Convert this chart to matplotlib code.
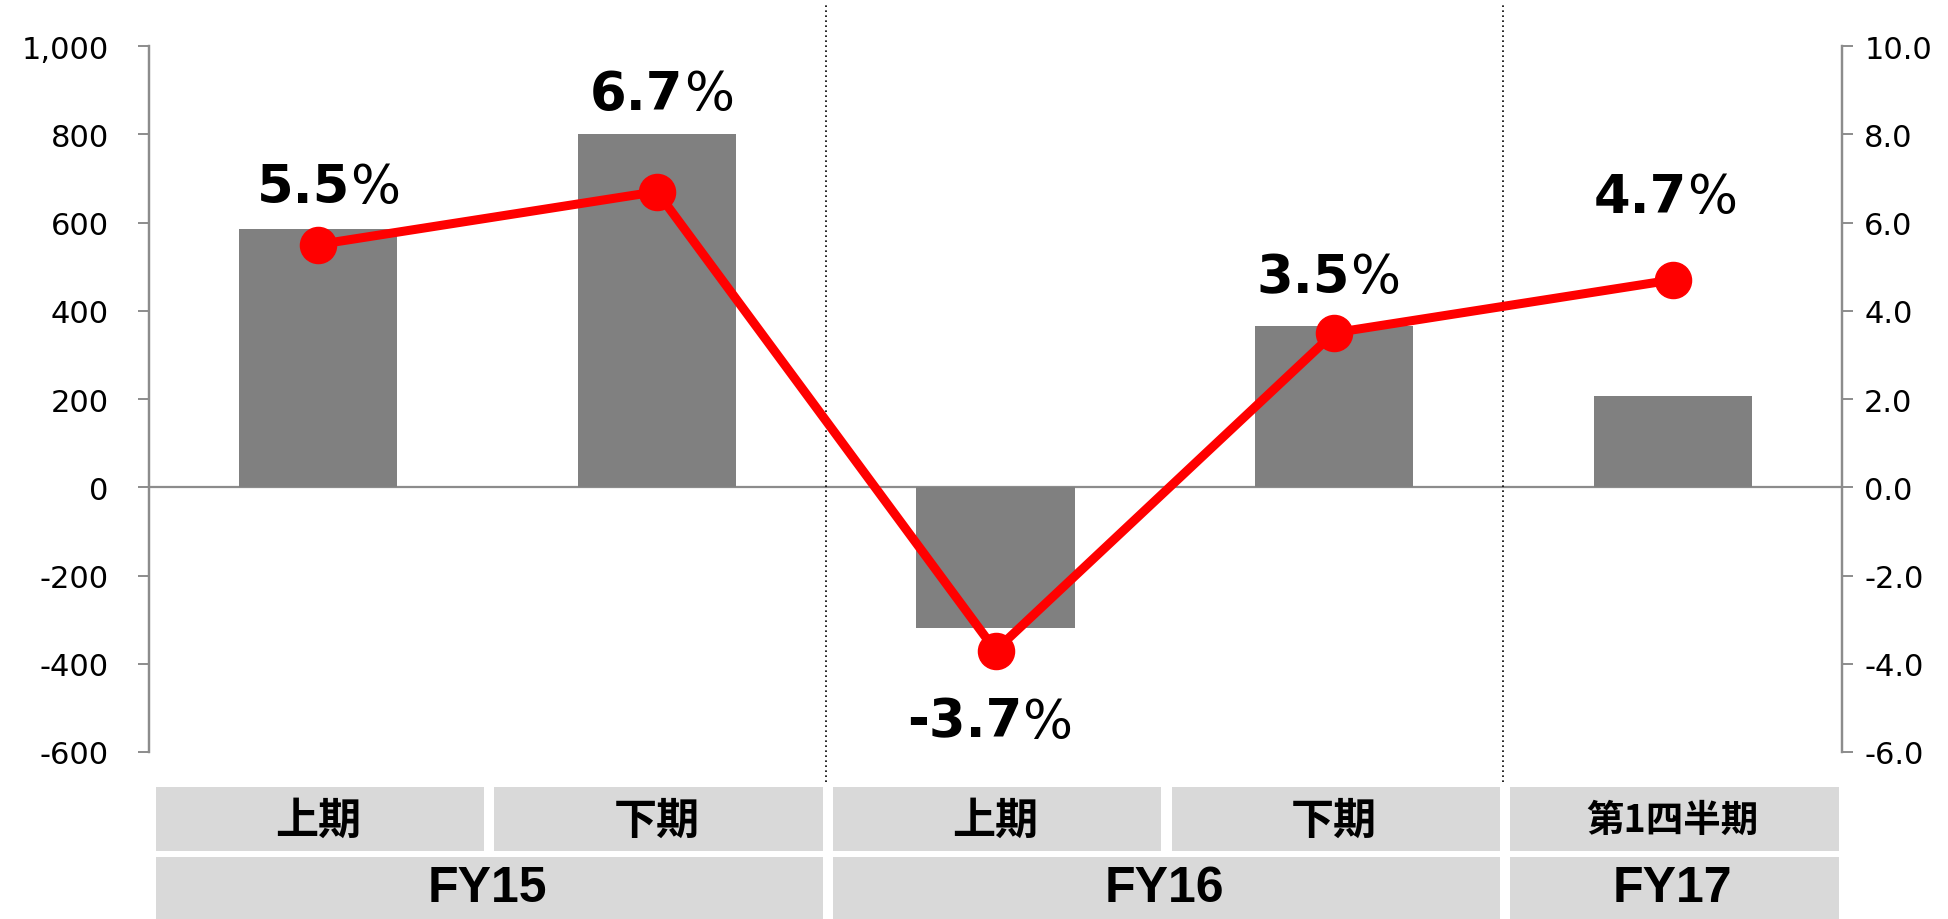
"""Half-year results: bars (left axis) with growth-rate line (right axis)."""

import matplotlib
matplotlib.use("Agg")
import matplotlib.pyplot as plt
from matplotlib.patches import Rectangle
from matplotlib.ticker import FuncFormatter

# ---------------------------------------------------------------------------
# Data
# ---------------------------------------------------------------------------

PERIODS = ["上期", "下期", "上期", "下期", "第1四半期"]
YEARS = ["FY15", "FY16", "FY17"]
YEAR_SPANS = [(0, 1), (2, 3), (4, 4)]          # first / last period index per year
BAR_VALUES = [586, 800, -318, 366, 206]
RATE_VALUES = [5.5, 6.7, -3.7, 3.5, 4.7]
LEFT_TICKS = [-600, -400, -200, 0, 200, 400, 600, 800, 1000]
RIGHT_TICKS = [-6, -4, -2, 0, 2, 4, 6, 8, 10]

# label placement relative to each point (pixels)
LABEL_DX = [10, 5, -6, -6, -7]
LABEL_DY = [43, 83, -86, 41, 68]

BAR_COLOR = "#808080"
LINE_COLOR = "#ff0000"
SPINE_COLOR = "#8c8c8c"
CELL_COLOR = "#d9d9d9"
TEXT_COLOR = "#000000"

W, H, DPI = 1948, 920, 100
AX_L, AX_R, AX_T, AX_B = 149, 1842, 47, 753   # axes box in pixels

plt.rcParams["font.family"] = ["Liberation Sans", "DejaVu Sans"]
NUM_FONT = ["DejaVu Sans"]
CJK = ["Noto Sans CJK JP", "DejaVu Sans"]

fig = plt.figure(figsize=(W / DPI, H / DPI), dpi=DPI)
fig.patch.set_facecolor("white")

ax = fig.add_axes([AX_L / W, 1 - AX_B / H, (AX_R - AX_L) / W, (AX_B - AX_T) / H])
ax2 = ax.twinx()

x = list(range(len(BAR_VALUES)))

# bars
ax.bar(x, BAR_VALUES, width=0.467, color=BAR_COLOR, zorder=2)
ax.axhline(0, color=SPINE_COLOR, linewidth=1.6, zorder=1)
ax.set_xlim(-0.5, len(x) - 0.5)
ax.set_ylim(LEFT_TICKS[0], LEFT_TICKS[-1])
ax.set_yticks(LEFT_TICKS)
ax.yaxis.set_major_formatter(FuncFormatter(lambda v, p: f"{int(v):,}"))
ax.set_xticks([])

# line
ax2.plot(x, RATE_VALUES, color=LINE_COLOR, linewidth=6.5, marker="o",
         markersize=26, solid_capstyle="round", zorder=3)
ax2.set_ylim(RIGHT_TICKS[0], RIGHT_TICKS[-1])
ax2.set_yticks(RIGHT_TICKS)
ax2.yaxis.set_major_formatter(FuncFormatter(lambda v, p: f"{v:.1f}"))

for a in (ax, ax2):
    for side in ("top", "bottom"):
        a.spines[side].set_visible(False)
    a.spines["left"].set_color(SPINE_COLOR)
    a.spines["right"].set_color(SPINE_COLOR)
    a.spines["left"].set_linewidth(1.6)
    a.spines["right"].set_linewidth(1.6)
    a.tick_params(axis="y", labelsize=22, labelcolor=TEXT_COLOR, color=SPINE_COLOR,
                  length=8, width=1.4)
    for lbl in a.get_yticklabels():
        lbl.set_family(NUM_FONT)
ax.tick_params(axis="y", pad=21)
ax2.tick_params(axis="y", pad=8)

# dotted separators between fiscal years
for yi in range(len(YEAR_SPANS) - 1):
    sep = YEAR_SPANS[yi][1] + 0.5
    ax.axvline(sep, ymin=-0.042, ymax=1.058, color="black", linewidth=1.2,
               linestyle=(0, (1, 2)), clip_on=False, zorder=4)

# percentage labels: bold number + regular percent sign
labels = []
for i, v in enumerate(RATE_VALUES):
    num = ax2.annotate(f"{v:.1f}", xy=(i, v), xytext=(LABEL_DX[i], LABEL_DY[i]),
                       textcoords="offset pixels", ha="center", va="baseline",
                       fontsize=38, fontweight="bold", family=NUM_FONT,
                       color=TEXT_COLOR, zorder=5)
    pct = ax2.annotate("%", xy=(1, 0), xycoords=num, ha="left", va="bottom",
                       fontsize=38, family=NUM_FONT, color=TEXT_COLOR, zorder=5)
    labels.append((num, pct))

fig.canvas.draw()
for i, (num, pct) in enumerate(labels):
    w = pct.get_window_extent().width
    num.xyann = (LABEL_DX[i] - w / 2, LABEL_DY[i])

# category table under the chart
tax = fig.add_axes([AX_L / W, 0, (AX_R - AX_L) / W, 132 / H])
tax.set_xlim(-0.5, len(x) - 0.5)
tax.set_ylim(0, 1)
tax.axis("off")

for i, label in enumerate(PERIODS):
    tax.add_patch(Rectangle((i - 0.48, 0.515), 0.97, 0.485, color=CELL_COLOR, lw=0))
    size = 27 if len(label) > 2 else 31
    tax.text(i, 0.755, label, ha="center", va="center", fontsize=size,
             fontweight="bold", family=CJK, color=TEXT_COLOR)

for label, (a, b) in zip(YEARS, YEAR_SPANS):
    tax.add_patch(Rectangle((a - 0.48, 0), b - a + 0.97, 0.47, color=CELL_COLOR, lw=0))
    tax.text((a + b) / 2, 0.235, label, ha="center", va="center", fontsize=36,
             fontweight="bold", color=TEXT_COLOR)

fig.savefig("out.png", dpi=DPI, facecolor="white")
